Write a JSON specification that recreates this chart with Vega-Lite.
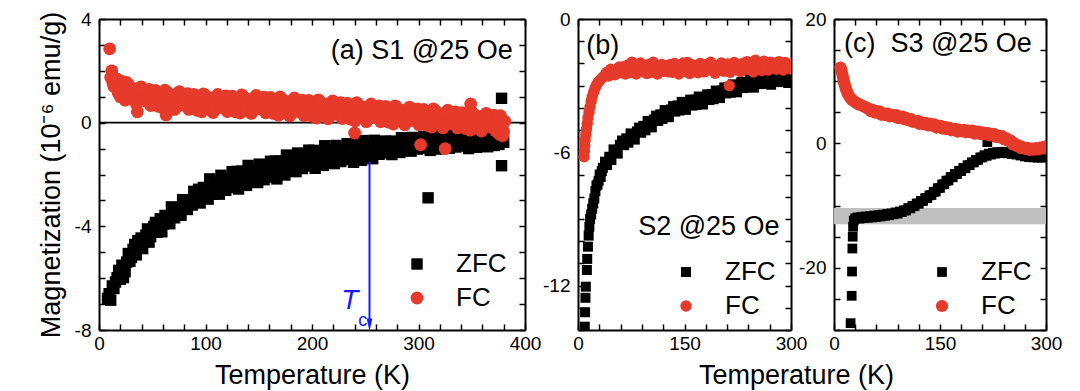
{
"$schema": "https://vega.github.io/schema/vega-lite/v6.json",
"background": "white",
"padding": {"left": 37, "top": 10, "right": 5, "bottom": 5},
"config": {
  "font": "Liberation Sans",
  "view": {"stroke": null},
  "axis": {"domainColor": "black", "domainWidth": 2, "tickColor": "black", "tickWidth": 1.5, "tickSize": -6, "labelColor": "black", "labelFontSize": 19, "labelFont": "Liberation Sans", "titleFont": "Liberation Sans", "titleFontSize": 27, "titleFontWeight": "normal", "titleColor": "black", "grid": false, "labelFlush": false, "labelOverlap": false, "labelPadding": 14, "titlePadding": 5},
  "axisBottom": {"labelPadding": 10, "titlePadding": 9},
  "legend": {"labelFontSize": 26, "labelFont": "Liberation Sans", "labelColor": "black", "symbolSize": 75, "symbolStrokeWidth": 0, "labelOffset": 26, "rowPadding": 8, "padding": 0},
  "text": {"font": "Liberation Sans"}
},
"datasets": {
"a": [
{"s":"ZFC","t":8,"m":-6.78},{"s":"ZFC","t":9.5,"m":-6.6},{"s":"ZFC","t":11,"m":-6.85},{"s":"ZFC","t":12.5,"m":-6.3},{"s":"ZFC","t":14,"m":-6.4},{"s":"ZFC","t":15.5,"m":-6.15},{"s":"ZFC","t":17,"m":-5.98},{"s":"ZFC","t":18.5,"m":-5.7},{"s":"ZFC","t":20,"m":-6.04},{"s":"ZFC","t":21.5,"m":-5.5},{"s":"ZFC","t":23,"m":-5.98},{"s":"ZFC","t":24.5,"m":-5.75},{"s":"ZFC","t":26,"m":-5.38},{"s":"ZFC","t":27.5,"m":-5.05},{"s":"ZFC","t":29,"m":-5.35},{"s":"ZFC","t":30.5,"m":-5.2},{"s":"ZFC","t":32,"m":-4.89},{"s":"ZFC","t":33.5,"m":-4.7},{"s":"ZFC","t":35,"m":-5.1},{"s":"ZFC","t":36.5,"m":-4.55},{"s":"ZFC","t":38,"m":-4.74},{"s":"ZFC","t":39.5,"m":-4.45},{"s":"ZFC","t":41,"m":-4.86},{"s":"ZFC","t":42.5,"m":-4.6},{"s":"ZFC","t":44,"m":-4.34},{"s":"ZFC","t":45.5,"m":-4.1},{"s":"ZFC","t":47,"m":-4.61},{"s":"ZFC","t":48.5,"m":-4.4},{"s":"ZFC","t":50,"m":-4.21},{"s":"ZFC","t":51.5,"m":-4.0},{"s":"ZFC","t":53,"m":-3.85},{"s":"ZFC","t":56,"m":-4.13},{"s":"ZFC","t":59,"m":-4.21},{"s":"ZFC","t":62,"m":-3.58},{"s":"ZFC","t":65,"m":-3.72},{"s":"ZFC","t":68,"m":-3.25},{"s":"ZFC","t":71,"m":-3.67},{"s":"ZFC","t":74,"m":-3.3},{"s":"ZFC","t":77,"m":-3.57},{"s":"ZFC","t":80,"m":-3.04},{"s":"ZFC","t":83,"m":-3.35},{"s":"ZFC","t":86,"m":-2.98},{"s":"ZFC","t":89,"m":-2.65},{"s":"ZFC","t":92,"m":-2.97},{"s":"ZFC","t":95,"m":-3.1},{"s":"ZFC","t":98,"m":-2.5},{"s":"ZFC","t":101,"m":-2.68},{"s":"ZFC","t":104,"m":-2.17},{"s":"ZFC","t":107,"m":-2.76},{"s":"ZFC","t":110,"m":-2.35},{"s":"ZFC","t":113,"m":-2.76},{"s":"ZFC","t":116,"m":-2.16},{"s":"ZFC","t":119,"m":-2.61},{"s":"ZFC","t":122,"m":-2.22},{"s":"ZFC","t":125,"m":-1.89},{"s":"ZFC","t":128,"m":-2.35},{"s":"ZFC","t":131,"m":-2.56},{"s":"ZFC","t":134,"m":-1.87},{"s":"ZFC","t":137,"m":-2.14},{"s":"ZFC","t":140,"m":-1.65},{"s":"ZFC","t":143,"m":-2.27},{"s":"ZFC","t":146,"m":-1.89},{"s":"ZFC","t":149,"m":-2.31},{"s":"ZFC","t":152,"m":-1.73},{"s":"ZFC","t":155,"m":-2.2},{"s":"ZFC","t":158,"m":-1.82},{"s":"ZFC","t":161,"m":-1.49},{"s":"ZFC","t":164,"m":-1.95},{"s":"ZFC","t":167,"m":-2.17},{"s":"ZFC","t":170,"m":-1.48},{"s":"ZFC","t":173,"m":-1.74},{"s":"ZFC","t":176,"m":-1.25},{"s":"ZFC","t":179,"m":-1.86},{"s":"ZFC","t":182,"m":-1.48},{"s":"ZFC","t":185,"m":-1.89},{"s":"ZFC","t":188,"m":-1.3},{"s":"ZFC","t":191,"m":-1.77},{"s":"ZFC","t":194,"m":-1.39},{"s":"ZFC","t":197,"m":-1.06},{"s":"ZFC","t":200,"m":-1.53},{"s":"ZFC","t":203,"m":-1.76},{"s":"ZFC","t":206,"m":-1.08},{"s":"ZFC","t":209,"m":-1.36},{"s":"ZFC","t":212,"m":-0.89},{"s":"ZFC","t":215,"m":-1.52},{"s":"ZFC","t":218,"m":-1.15},{"s":"ZFC","t":221,"m":-1.58},{"s":"ZFC","t":224,"m":-1.01},{"s":"ZFC","t":227,"m":-1.5},{"s":"ZFC","t":230,"m":-1.13},{"s":"ZFC","t":233,"m":-0.81},{"s":"ZFC","t":236,"m":-1.3},{"s":"ZFC","t":239,"m":-1.53},{"s":"ZFC","t":242,"m":-0.87},{"s":"ZFC","t":245,"m":-1.15},{"s":"ZFC","t":248,"m":-0.69},{"s":"ZFC","t":251,"m":-1.32},{"s":"ZFC","t":254,"m":-0.96},{"s":"ZFC","t":257,"m":-1.39},{"s":"ZFC","t":260,"m":-0.82},{"s":"ZFC","t":263,"m":-1.22},{"s":"ZFC","t":266,"m":-0.94},{"s":"ZFC","t":269,"m":-0.71},{"s":"ZFC","t":272,"m":-1.06},{"s":"ZFC","t":275,"m":-1.23},{"s":"ZFC","t":278,"m":-0.72},{"s":"ZFC","t":281,"m":-0.94},{"s":"ZFC","t":284,"m":-0.58},{"s":"ZFC","t":287,"m":-1.05},{"s":"ZFC","t":290,"m":-0.77},{"s":"ZFC","t":293,"m":-1.1},{"s":"ZFC","t":296,"m":-0.67},{"s":"ZFC","t":299,"m":-1.02},{"s":"ZFC","t":302,"m":-0.76},{"s":"ZFC","t":305,"m":-0.53},{"s":"ZFC","t":308,"m":-0.89},{"s":"ZFC","t":311,"m":-1.07},{"s":"ZFC","t":314,"m":-0.58},{"s":"ZFC","t":317,"m":-0.8},{"s":"ZFC","t":320,"m":-0.45},{"s":"ZFC","t":323,"m":-0.93},{"s":"ZFC","t":326,"m":-0.66},{"s":"ZFC","t":329,"m":-0.99},{"s":"ZFC","t":332,"m":-0.58},{"s":"ZFC","t":335,"m":-0.94},{"s":"ZFC","t":338,"m":-0.67},{"s":"ZFC","t":341,"m":-0.45},{"s":"ZFC","t":344,"m":-0.81},{"s":"ZFC","t":347,"m":-1.0},{"s":"ZFC","t":350,"m":-0.5},{"s":"ZFC","t":353,"m":-0.73},{"s":"ZFC","t":356,"m":-0.38},{"s":"ZFC","t":359,"m":-0.87},{"s":"ZFC","t":362,"m":-0.59},{"s":"ZFC","t":365,"m":-0.93},{"s":"ZFC","t":368,"m":-0.51},{"s":"ZFC","t":371,"m":-0.88},{"s":"ZFC","t":374,"m":-0.62},{"s":"ZFC","t":377,"m":-0.39},{"s":"ZFC","t":380,"m":-0.76},
{"s":"ZFC","t":54.5,"m":-4.23},{"s":"ZFC","t":57.5,"m":-3.71},{"s":"ZFC","t":60.5,"m":-3.91},{"s":"ZFC","t":63.5,"m":-3.6},{"s":"ZFC","t":66.5,"m":-3.9},{"s":"ZFC","t":69.5,"m":-3.32},{"s":"ZFC","t":72.5,"m":-3.42},{"s":"ZFC","t":75.5,"m":-3.57},{"s":"ZFC","t":78.5,"m":-2.97},{"s":"ZFC","t":81.5,"m":-3.28},{"s":"ZFC","t":84.5,"m":-2.99},{"s":"ZFC","t":87.5,"m":-3.18},{"s":"ZFC","t":90.5,"m":-3.05},{"s":"ZFC","t":93.5,"m":-2.57},{"s":"ZFC","t":96.5,"m":-2.82},{"s":"ZFC","t":99.5,"m":-2.54},{"s":"ZFC","t":102.5,"m":-2.95},{"s":"ZFC","t":105.5,"m":-2.29},{"s":"ZFC","t":108.5,"m":-2.48},{"s":"ZFC","t":111.5,"m":-2.73},{"s":"ZFC","t":114.5,"m":-2.03},{"s":"ZFC","t":117.5,"m":-2.49},{"s":"ZFC","t":120.5,"m":-2.19},{"s":"ZFC","t":123.5,"m":-2.5},{"s":"ZFC","t":126.5,"m":-2.41},{"s":"ZFC","t":129.5,"m":-1.88},{"s":"ZFC","t":132.5,"m":-2.24},{"s":"ZFC","t":135.5,"m":-1.96},{"s":"ZFC","t":138.5,"m":-2.42},{"s":"ZFC","t":141.5,"m":-1.79},{"s":"ZFC","t":144.5,"m":-2.0},{"s":"ZFC","t":147.5,"m":-2.27},{"s":"ZFC","t":150.5,"m":-1.6},{"s":"ZFC","t":153.5,"m":-2.07},{"s":"ZFC","t":156.5,"m":-1.78},{"s":"ZFC","t":159.5,"m":-2.1},{"s":"ZFC","t":162.5,"m":-2.02},{"s":"ZFC","t":165.5,"m":-1.48},{"s":"ZFC","t":168.5,"m":-1.85},{"s":"ZFC","t":171.5,"m":-1.56},{"s":"ZFC","t":174.5,"m":-2.02},{"s":"ZFC","t":177.5,"m":-1.38},{"s":"ZFC","t":180.5,"m":-1.6},{"s":"ZFC","t":183.5,"m":-1.86},{"s":"ZFC","t":186.5,"m":-1.17},{"s":"ZFC","t":189.5,"m":-1.64},{"s":"ZFC","t":192.5,"m":-1.35},{"s":"ZFC","t":195.5,"m":-1.67},{"s":"ZFC","t":198.5,"m":-1.59},{"s":"ZFC","t":201.5,"m":-1.07},{"s":"ZFC","t":204.5,"m":-1.44},{"s":"ZFC","t":207.5,"m":-1.17},{"s":"ZFC","t":210.5,"m":-1.65},{"s":"ZFC","t":213.5,"m":-1.03},{"s":"ZFC","t":216.5,"m":-1.26},{"s":"ZFC","t":219.5,"m":-1.54},{"s":"ZFC","t":222.5,"m":-0.88},{"s":"ZFC","t":225.5,"m":-1.36},{"s":"ZFC","t":228.5,"m":-1.09},{"s":"ZFC","t":231.5,"m":-1.42},{"s":"ZFC","t":234.5,"m":-1.36},{"s":"ZFC","t":237.5,"m":-0.84},{"s":"ZFC","t":240.5,"m":-1.23},{"s":"ZFC","t":243.5,"m":-0.96},{"s":"ZFC","t":246.5,"m":-1.45},{"s":"ZFC","t":249.5,"m":-0.83},{"s":"ZFC","t":252.5,"m":-1.07},{"s":"ZFC","t":255.5,"m":-1.35},{"s":"ZFC","t":258.5,"m":-0.68},{"s":"ZFC","t":261.5,"m":-1.12},{"s":"ZFC","t":264.5,"m":-0.91},{"s":"ZFC","t":267.5,"m":-1.17},{"s":"ZFC","t":270.5,"m":-1.11},{"s":"ZFC","t":273.5,"m":-0.72},{"s":"ZFC","t":276.5,"m":-1.0},{"s":"ZFC","t":279.5,"m":-0.79},{"s":"ZFC","t":282.5,"m":-1.15},{"s":"ZFC","t":285.5,"m":-0.68},{"s":"ZFC","t":288.5,"m":-0.86},{"s":"ZFC","t":291.5,"m":-1.06},{"s":"ZFC","t":294.5,"m":-0.57},{"s":"ZFC","t":297.5,"m":-0.92},{"s":"ZFC","t":300.5,"m":-0.72},{"s":"ZFC","t":303.5,"m":-0.98},{"s":"ZFC","t":306.5,"m":-0.93},{"s":"ZFC","t":309.5,"m":-0.56},{"s":"ZFC","t":312.5,"m":-0.85},{"s":"ZFC","t":315.5,"m":-0.65},{"s":"ZFC","t":318.5,"m":-1.02},{"s":"ZFC","t":321.5,"m":-0.56},{"s":"ZFC","t":324.5,"m":-0.74},{"s":"ZFC","t":327.5,"m":-0.96},{"s":"ZFC","t":330.5,"m":-0.47},{"s":"ZFC","t":333.5,"m":-0.83},{"s":"ZFC","t":336.5,"m":-0.64},{"s":"ZFC","t":339.5,"m":-0.9},{"s":"ZFC","t":342.5,"m":-0.86},{"s":"ZFC","t":345.5,"m":-0.48},{"s":"ZFC","t":348.5,"m":-0.78},{"s":"ZFC","t":351.5,"m":-0.58},{"s":"ZFC","t":354.5,"m":-0.95},{"s":"ZFC","t":357.5,"m":-0.49},{"s":"ZFC","t":360.5,"m":-0.68},{"s":"ZFC","t":363.5,"m":-0.89},{"s":"ZFC","t":366.5,"m":-0.41},{"s":"ZFC","t":369.5,"m":-0.77},{"s":"ZFC","t":372.5,"m":-0.58},{"s":"ZFC","t":375.5,"m":-0.84},
{"s":"ZFC","t":309,"m":-2.9},{"s":"ZFC","t":378,"m":0.94},{"s":"ZFC","t":378,"m":-1.66},
{"s":"FC","t":10,"m":2.85},{"s":"FC","t":12,"m":2.0},{"s":"FC","t":11,"m":1.75},{"s":"FC","t":13,"m":1.55},{"s":"FC","t":14,"m":1.4},{"s":"FC","t":15,"m":1.7},{"s":"FC","t":17,"m":1.68},{"s":"FC","t":18,"m":1.15},{"s":"FC","t":20,"m":1.0},{"s":"FC","t":21,"m":1.6},{"s":"FC","t":23,"m":1.4},{"s":"FC","t":25,"m":1.0},{"s":"FC","t":26,"m":1.55},{"s":"FC","t":29,"m":0.96},{"s":"FC","t":32,"m":1.12},{"s":"FC","t":35,"m":0.73},{"s":"FC","t":36,"m":0.42},{"s":"FC","t":38,"m":1.3},{"s":"FC","t":41,"m":1.12},{"s":"FC","t":44,"m":0.85},{"s":"FC","t":47,"m":1.28},{"s":"FC","t":50,"m":0.85},{"s":"FC","t":53,"m":1.24},{"s":"FC","t":56,"m":0.63},{"s":"FC","t":59,"m":1.06},{"s":"FC","t":62,"m":1.25},{"s":"FC","t":63,"m":0.3},{"s":"FC","t":65,"m":0.69},{"s":"FC","t":68,"m":0.88},{"s":"FC","t":71,"m":0.51},{"s":"FC","t":74,"m":1.1},{"s":"FC","t":77,"m":0.94},{"s":"FC","t":80,"m":0.68},{"s":"FC","t":83,"m":1.12},{"s":"FC","t":86,"m":0.7},{"s":"FC","t":89,"m":1.09},{"s":"FC","t":92,"m":0.48},{"s":"FC","t":95,"m":0.92},{"s":"FC","t":98,"m":1.11},{"s":"FC","t":101,"m":0.55},{"s":"FC","t":104,"m":0.75},{"s":"FC","t":107,"m":0.39},{"s":"FC","t":110,"m":0.99},{"s":"FC","t":113,"m":0.84},{"s":"FC","t":116,"m":0.58},{"s":"FC","t":119,"m":1.03},{"s":"FC","t":122,"m":0.63},{"s":"FC","t":125,"m":1.02},{"s":"FC","t":128,"m":0.42},{"s":"FC","t":131,"m":0.87},{"s":"FC","t":134,"m":1.07},{"s":"FC","t":137,"m":0.51},{"s":"FC","t":140,"m":0.71},{"s":"FC","t":143,"m":0.36},{"s":"FC","t":146,"m":0.95},{"s":"FC","t":149,"m":0.8},{"s":"FC","t":152,"m":0.54},{"s":"FC","t":155,"m":0.98},{"s":"FC","t":158,"m":0.57},{"s":"FC","t":161,"m":0.97},{"s":"FC","t":164,"m":0.36},{"s":"FC","t":167,"m":0.8},{"s":"FC","t":170,"m":0.99},{"s":"FC","t":173,"m":0.43},{"s":"FC","t":176,"m":0.62},{"s":"FC","t":179,"m":0.26},{"s":"FC","t":182,"m":0.85},{"s":"FC","t":185,"m":0.69},{"s":"FC","t":188,"m":0.43},{"s":"FC","t":191,"m":0.87},{"s":"FC","t":194,"m":0.47},{"s":"FC","t":197,"m":0.86},{"s":"FC","t":200,"m":0.25},{"s":"FC","t":203,"m":0.69},{"s":"FC","t":206,"m":0.88},{"s":"FC","t":209,"m":0.32},{"s":"FC","t":212,"m":0.51},{"s":"FC","t":215,"m":0.15},{"s":"FC","t":218,"m":0.75},{"s":"FC","t":221,"m":0.59},{"s":"FC","t":224,"m":0.33},{"s":"FC","t":227,"m":0.77},{"s":"FC","t":230,"m":0.36},{"s":"FC","t":233,"m":0.75},{"s":"FC","t":236,"m":0.14},{"s":"FC","t":239,"m":0.58},{"s":"FC","t":240,"m":-0.4},{"s":"FC","t":242,"m":0.77},{"s":"FC","t":245,"m":0.21},{"s":"FC","t":248,"m":0.4},{"s":"FC","t":251,"m":0.04},{"s":"FC","t":254,"m":0.63},{"s":"FC","t":257,"m":0.47},{"s":"FC","t":260,"m":0.21},{"s":"FC","t":263,"m":0.65},{"s":"FC","t":266,"m":0.24},{"s":"FC","t":269,"m":0.63},{"s":"FC","t":272,"m":0.02},{"s":"FC","t":275,"m":0.46},{"s":"FC","t":278,"m":0.65},{"s":"FC","t":281,"m":0.09},{"s":"FC","t":284,"m":0.28},{"s":"FC","t":287,"m":-0.08},{"s":"FC","t":290,"m":0.51},{"s":"FC","t":293,"m":0.35},{"s":"FC","t":296,"m":0.09},{"s":"FC","t":299,"m":0.53},{"s":"FC","t":302,"m":0.12},{"s":"FC","t":302,"m":-0.85},{"s":"FC","t":305,"m":0.51},{"s":"FC","t":308,"m":-0.1},{"s":"FC","t":311,"m":0.34},{"s":"FC","t":314,"m":0.53},{"s":"FC","t":317,"m":-0.03},{"s":"FC","t":320,"m":0.16},{"s":"FC","t":323,"m":-0.2},{"s":"FC","t":325,"m":-1.0},{"s":"FC","t":326,"m":0.39},{"s":"FC","t":329,"m":0.23},{"s":"FC","t":332,"m":-0.03},{"s":"FC","t":335,"m":0.41},{"s":"FC","t":338,"m":0.0},{"s":"FC","t":341,"m":0.39},{"s":"FC","t":344,"m":-0.22},{"s":"FC","t":347,"m":0.22},{"s":"FC","t":349,"m":0.72},{"s":"FC","t":350,"m":0.41},{"s":"FC","t":353,"m":-0.15},{"s":"FC","t":356,"m":0.04},{"s":"FC","t":359,"m":-0.32},{"s":"FC","t":362,"m":0.27},{"s":"FC","t":365,"m":0.11},{"s":"FC","t":368,"m":-0.15},{"s":"FC","t":371,"m":0.29},{"s":"FC","t":374,"m":-0.12},{"s":"FC","t":376,"m":-0.45},{"s":"FC","t":377,"m":0.27},{"s":"FC","t":379,"m":-0.5},{"s":"FC","t":380,"m":-0.34},{"s":"FC","t":381,"m":0.05},
{"s":"FC","t":15.5,"m":1.7},{"s":"FC","t":18.5,"m":1.14},{"s":"FC","t":21.5,"m":1.38},{"s":"FC","t":24.5,"m":0.87},{"s":"FC","t":27.5,"m":1.48},{"s":"FC","t":30.5,"m":1.09},{"s":"FC","t":33.5,"m":1.3},{"s":"FC","t":36.5,"m":0.81},{"s":"FC","t":39.5,"m":1.38},{"s":"FC","t":42.5,"m":0.86},{"s":"FC","t":45.5,"m":1.04},{"s":"FC","t":48.5,"m":0.66},{"s":"FC","t":51.5,"m":1.19},{"s":"FC","t":54.5,"m":0.73},{"s":"FC","t":57.5,"m":1.02},{"s":"FC","t":60.5,"m":0.55},{"s":"FC","t":63.5,"m":1.19},{"s":"FC","t":66.5,"m":0.83},{"s":"FC","t":69.5,"m":1.07},{"s":"FC","t":72.5,"m":0.61},{"s":"FC","t":75.5,"m":1.2},{"s":"FC","t":78.5,"m":0.69},{"s":"FC","t":81.5,"m":0.87},{"s":"FC","t":84.5,"m":0.51},{"s":"FC","t":87.5,"m":1.05},{"s":"FC","t":90.5,"m":0.59},{"s":"FC","t":93.5,"m":0.88},{"s":"FC","t":96.5,"m":0.42},{"s":"FC","t":99.5,"m":1.06},{"s":"FC","t":102.5,"m":0.7},{"s":"FC","t":105.5,"m":0.95},{"s":"FC","t":108.5,"m":0.49},{"s":"FC","t":111.5,"m":1.09},{"s":"FC","t":114.5,"m":0.58},{"s":"FC","t":117.5,"m":0.78},{"s":"FC","t":120.5,"m":0.43},{"s":"FC","t":123.5,"m":0.97},{"s":"FC","t":126.5,"m":0.52},{"s":"FC","t":129.5,"m":0.82},{"s":"FC","t":132.5,"m":0.37},{"s":"FC","t":135.5,"m":1.01},{"s":"FC","t":138.5,"m":0.66},{"s":"FC","t":141.5,"m":0.91},{"s":"FC","t":144.5,"m":0.45},{"s":"FC","t":147.5,"m":1.05},{"s":"FC","t":150.5,"m":0.54},{"s":"FC","t":153.5,"m":0.73},{"s":"FC","t":156.5,"m":0.38},{"s":"FC","t":159.5,"m":0.92},{"s":"FC","t":162.5,"m":0.46},{"s":"FC","t":165.5,"m":0.75},{"s":"FC","t":168.5,"m":0.29},{"s":"FC","t":171.5,"m":0.93},{"s":"FC","t":174.5,"m":0.57},{"s":"FC","t":177.5,"m":0.81},{"s":"FC","t":180.5,"m":0.35},{"s":"FC","t":183.5,"m":0.95},{"s":"FC","t":186.5,"m":0.44},{"s":"FC","t":189.5,"m":0.63},{"s":"FC","t":192.5,"m":0.27},{"s":"FC","t":195.5,"m":0.81},{"s":"FC","t":198.5,"m":0.35},{"s":"FC","t":201.5,"m":0.64},{"s":"FC","t":204.5,"m":0.18},{"s":"FC","t":207.5,"m":0.82},{"s":"FC","t":210.5,"m":0.46},{"s":"FC","t":213.5,"m":0.71},{"s":"FC","t":216.5,"m":0.25},{"s":"FC","t":219.5,"m":0.84},{"s":"FC","t":222.5,"m":0.33},{"s":"FC","t":225.5,"m":0.52},{"s":"FC","t":228.5,"m":0.16},{"s":"FC","t":231.5,"m":0.7},{"s":"FC","t":234.5,"m":0.24},{"s":"FC","t":237.5,"m":0.53},{"s":"FC","t":240.5,"m":0.07},{"s":"FC","t":243.5,"m":0.71},{"s":"FC","t":246.5,"m":0.35},{"s":"FC","t":249.5,"m":0.59},{"s":"FC","t":252.5,"m":0.13},{"s":"FC","t":255.5,"m":0.72},{"s":"FC","t":258.5,"m":0.21},{"s":"FC","t":261.5,"m":0.4},{"s":"FC","t":264.5,"m":0.04},{"s":"FC","t":267.5,"m":0.58},{"s":"FC","t":270.5,"m":0.12},{"s":"FC","t":273.5,"m":0.41},{"s":"FC","t":276.5,"m":-0.05},{"s":"FC","t":279.5,"m":0.59},{"s":"FC","t":282.5,"m":0.23},{"s":"FC","t":285.5,"m":0.47},{"s":"FC","t":288.5,"m":0.01},{"s":"FC","t":291.5,"m":0.6},{"s":"FC","t":294.5,"m":0.09},{"s":"FC","t":297.5,"m":0.28},{"s":"FC","t":300.5,"m":-0.08},{"s":"FC","t":303.5,"m":0.46},{"s":"FC","t":306.5,"m":0.0},{"s":"FC","t":309.5,"m":0.29},{"s":"FC","t":312.5,"m":-0.17},{"s":"FC","t":315.5,"m":0.47},{"s":"FC","t":318.5,"m":0.11},{"s":"FC","t":321.5,"m":0.35},{"s":"FC","t":324.5,"m":-0.11},{"s":"FC","t":327.5,"m":0.48},{"s":"FC","t":330.5,"m":-0.03},{"s":"FC","t":333.5,"m":0.16},{"s":"FC","t":336.5,"m":-0.2},{"s":"FC","t":339.5,"m":0.34},{"s":"FC","t":342.5,"m":-0.12},{"s":"FC","t":345.5,"m":0.17},{"s":"FC","t":348.5,"m":-0.29},{"s":"FC","t":351.5,"m":0.35},{"s":"FC","t":354.5,"m":-0.01},{"s":"FC","t":357.5,"m":0.23},{"s":"FC","t":360.5,"m":-0.23},{"s":"FC","t":363.5,"m":0.36},{"s":"FC","t":366.5,"m":-0.15},{"s":"FC","t":369.5,"m":0.04},{"s":"FC","t":372.5,"m":-0.32},{"s":"FC","t":375.5,"m":0.22},{"s":"FC","t":378.5,"m":-0.24}
],
"b": [
{"s":"ZFC","t":9.5,"m":-13.85},{"s":"ZFC","t":10,"m":-13.2},{"s":"ZFC","t":10.5,"m":-12.55},{"s":"ZFC","t":11,"m":-12.05},{"s":"ZFC","t":12.5,"m":-11.3},{"s":"ZFC","t":13,"m":-10.8},{"s":"ZFC","t":14,"m":-10.25},{"s":"ZFC","t":15,"m":-9.75},{"s":"ZFC","t":16,"m":-9.35},{"s":"ZFC","t":17,"m":-9.0},{"s":"ZFC","t":18.5,"m":-8.8},{"s":"ZFC","t":20,"m":-8.54},{"s":"ZFC","t":21.5,"m":-8.3},{"s":"ZFC","t":23,"m":-8.08},{"s":"ZFC","t":24.5,"m":-7.75},{"s":"ZFC","t":26,"m":-7.5},{"s":"ZFC","t":27.5,"m":-7.45},{"s":"ZFC","t":29,"m":-7.28},{"s":"ZFC","t":30.5,"m":-7.0},{"s":"ZFC","t":32,"m":-7.11},{"s":"ZFC","t":33.5,"m":-6.85},{"s":"ZFC","t":35,"m":-6.7},{"s":"ZFC","t":38,"m":-6.42},{"s":"ZFC","t":41,"m":-6.57},{"s":"ZFC","t":44,"m":-6.2},{"s":"ZFC","t":47,"m":-6.35},{"s":"ZFC","t":50,"m":-5.87},{"s":"ZFC","t":53,"m":-6.0},{"s":"ZFC","t":56,"m":-6.06},{"s":"ZFC","t":59,"m":-5.66},{"s":"ZFC","t":62,"m":-5.47},{"s":"ZFC","t":65,"m":-5.68},{"s":"ZFC","t":68,"m":-5.37},{"s":"ZFC","t":71,"m":-5.57},{"s":"ZFC","t":74,"m":-5.15},{"s":"ZFC","t":77,"m":-5.33},{"s":"ZFC","t":80,"m":-5.43},{"s":"ZFC","t":83,"m":-5.06},{"s":"ZFC","t":86,"m":-4.89},{"s":"ZFC","t":89,"m":-5.12},{"s":"ZFC","t":92,"m":-4.81},{"s":"ZFC","t":95,"m":-5.01},{"s":"ZFC","t":98,"m":-4.59},{"s":"ZFC","t":101,"m":-4.77},{"s":"ZFC","t":104,"m":-4.88},{"s":"ZFC","t":107,"m":-4.52},{"s":"ZFC","t":110,"m":-4.35},{"s":"ZFC","t":113,"m":-4.59},{"s":"ZFC","t":116,"m":-4.29},{"s":"ZFC","t":119,"m":-4.5},{"s":"ZFC","t":122,"m":-4.1},{"s":"ZFC","t":125,"m":-4.3},{"s":"ZFC","t":128,"m":-4.42},{"s":"ZFC","t":131,"m":-4.07},{"s":"ZFC","t":134,"m":-3.92},{"s":"ZFC","t":137,"m":-4.17},{"s":"ZFC","t":140,"m":-3.89},{"s":"ZFC","t":143,"m":-4.12},{"s":"ZFC","t":146,"m":-3.73},{"s":"ZFC","t":149,"m":-3.95},{"s":"ZFC","t":152,"m":-4.09},{"s":"ZFC","t":155,"m":-3.76},{"s":"ZFC","t":158,"m":-3.63},{"s":"ZFC","t":161,"m":-3.9},{"s":"ZFC","t":164,"m":-3.63},{"s":"ZFC","t":167,"m":-3.87},{"s":"ZFC","t":170,"m":-3.49},{"s":"ZFC","t":173,"m":-3.71},{"s":"ZFC","t":176,"m":-3.85},{"s":"ZFC","t":179,"m":-3.52},{"s":"ZFC","t":182,"m":-3.39},{"s":"ZFC","t":185,"m":-3.65},{"s":"ZFC","t":188,"m":-3.38},{"s":"ZFC","t":191,"m":-3.61},{"s":"ZFC","t":194,"m":-3.22},{"s":"ZFC","t":197,"m":-3.43},{"s":"ZFC","t":200,"m":-3.56},{"s":"ZFC","t":203,"m":-3.22},{"s":"ZFC","t":206,"m":-3.08},{"s":"ZFC","t":209,"m":-3.35},{"s":"ZFC","t":212,"m":-3.08},{"s":"ZFC","t":215,"m":-3.32},{"s":"ZFC","t":218,"m":-2.94},{"s":"ZFC","t":221,"m":-3.16},{"s":"ZFC","t":224,"m":-3.3},{"s":"ZFC","t":227,"m":-2.97},{"s":"ZFC","t":230,"m":-2.84},{"s":"ZFC","t":233,"m":-3.11},{"s":"ZFC","t":236,"m":-2.84},{"s":"ZFC","t":239,"m":-3.08},{"s":"ZFC","t":242,"m":-2.71},{"s":"ZFC","t":245,"m":-2.94},{"s":"ZFC","t":248,"m":-3.09},{"s":"ZFC","t":251,"m":-2.77},{"s":"ZFC","t":254,"m":-2.65},{"s":"ZFC","t":257,"m":-2.93},{"s":"ZFC","t":260,"m":-2.67},{"s":"ZFC","t":263,"m":-2.92},{"s":"ZFC","t":266,"m":-2.56},{"s":"ZFC","t":269,"m":-2.8},{"s":"ZFC","t":272,"m":-2.96},{"s":"ZFC","t":275,"m":-2.65},{"s":"ZFC","t":278,"m":-2.54},{"s":"ZFC","t":281,"m":-2.83},{"s":"ZFC","t":284,"m":-2.58},{"s":"ZFC","t":287,"m":-2.84},{"s":"ZFC","t":290,"m":-2.48},{"s":"ZFC","t":293,"m":-2.72},{"s":"ZFC","t":296,"m":-2.88},{"s":"ZFC","t":299,"m":-2.57},
{"s":"FC","t":8.5,"m":-6.2},{"s":"FC","t":9,"m":-5.95},{"s":"FC","t":9.5,"m":-5.7},{"s":"FC","t":10,"m":-5.45},{"s":"FC","t":11,"m":-5.2},{"s":"FC","t":12,"m":-4.95},{"s":"FC","t":13,"m":-4.7},{"s":"FC","t":14,"m":-4.45},{"s":"FC","t":15.5,"m":-4.2},{"s":"FC","t":17,"m":-3.95},{"s":"FC","t":18.5,"m":-3.7},{"s":"FC","t":20,"m":-3.5},{"s":"FC","t":22,"m":-3.3},{"s":"FC","t":24,"m":-3.12},{"s":"FC","t":26,"m":-2.98},{"s":"FC","t":28,"m":-2.86},{"s":"FC","t":31,"m":-2.75},{"s":"FC","t":34,"m":-2.65},{"s":"FC","t":37,"m":-2.56},{"s":"FC","t":40,"m":-2.41},{"s":"FC","t":43,"m":-2.57},{"s":"FC","t":46,"m":-2.26},{"s":"FC","t":49,"m":-2.43},{"s":"FC","t":52,"m":-2.51},{"s":"FC","t":55,"m":-2.28},{"s":"FC","t":58,"m":-2.16},{"s":"FC","t":61,"m":-2.42},{"s":"FC","t":64,"m":-2.15},{"s":"FC","t":67,"m":-2.48},{"s":"FC","t":70,"m":-2.07},{"s":"FC","t":73,"m":-2.41},{"s":"FC","t":76,"m":-1.95},{"s":"FC","t":79,"m":-2.3},{"s":"FC","t":82,"m":-2.48},{"s":"FC","t":85,"m":-2.15},{"s":"FC","t":88,"m":-1.98},{"s":"FC","t":91,"m":-2.35},{"s":"FC","t":94,"m":-2.1},{"s":"FC","t":97,"m":-2.45},{"s":"FC","t":100,"m":-2.05},{"s":"FC","t":103,"m":-2.4},{"s":"FC","t":106,"m":-1.95},{"s":"FC","t":109,"m":-2.22},{"s":"FC","t":112,"m":-2.48},{"s":"FC","t":115,"m":-2.15},{"s":"FC","t":118,"m":-2.05},{"s":"FC","t":121,"m":-2.35},{"s":"FC","t":124,"m":-2.1},{"s":"FC","t":127,"m":-2.38},{"s":"FC","t":130,"m":-2.05},{"s":"FC","t":133,"m":-2.4},{"s":"FC","t":136,"m":-2.0},{"s":"FC","t":139,"m":-2.3},{"s":"FC","t":142,"m":-2.48},{"s":"FC","t":145,"m":-2.25},{"s":"FC","t":148,"m":-1.98},{"s":"FC","t":151,"m":-2.35},{"s":"FC","t":154,"m":-1.96},{"s":"FC","t":157,"m":-2.45},{"s":"FC","t":160,"m":-2.05},{"s":"FC","t":163,"m":-2.28},{"s":"FC","t":166,"m":-2.12},{"s":"FC","t":169,"m":-2.42},{"s":"FC","t":172,"m":-2.0},{"s":"FC","t":175,"m":-2.22},{"s":"FC","t":178,"m":-2.38},{"s":"FC","t":181,"m":-2.05},{"s":"FC","t":184,"m":-2.3},{"s":"FC","t":187,"m":-1.95},{"s":"FC","t":190,"m":-2.18},{"s":"FC","t":193,"m":-2.44},{"s":"FC","t":196,"m":-2.1},{"s":"FC","t":199,"m":-2.26},{"s":"FC","t":202,"m":-1.98},{"s":"FC","t":205,"m":-2.35},{"s":"FC","t":208,"m":-2.14},{"s":"FC","t":211,"m":-2.02},{"s":"FC","t":213,"m":-3.0},{"s":"FC","t":214,"m":-2.4},{"s":"FC","t":217,"m":-2.2},{"s":"FC","t":220,"m":-1.96},{"s":"FC","t":223,"m":-2.3},{"s":"FC","t":226,"m":-2.08},{"s":"FC","t":229,"m":-2.36},{"s":"FC","t":232,"m":-2.0},{"s":"FC","t":235,"m":-2.22},{"s":"FC","t":238,"m":-1.92},{"s":"FC","t":241,"m":-2.28},{"s":"FC","t":244,"m":-2.12},{"s":"FC","t":247,"m":-2.38},{"s":"FC","t":250,"m":-1.85},{"s":"FC","t":253,"m":-2.2},{"s":"FC","t":256,"m":-2.04},{"s":"FC","t":259,"m":-2.32},{"s":"FC","t":262,"m":-1.9},{"s":"FC","t":265,"m":-2.15},{"s":"FC","t":268,"m":-2.3},{"s":"FC","t":271,"m":-1.95},{"s":"FC","t":274,"m":-2.18},{"s":"FC","t":277,"m":-2.0},{"s":"FC","t":280,"m":-2.26},{"s":"FC","t":283,"m":-1.92},{"s":"FC","t":286,"m":-2.12},{"s":"FC","t":289,"m":-2.3},{"s":"FC","t":292,"m":-1.96},{"s":"FC","t":295,"m":-2.15},{"s":"FC","t":298,"m":-2.05},{"s":"FC","t":300,"m":-2.25}
],
"c": [
{"s":"ZFC","t":23.5,"m":-28.9},{"s":"ZFC","t":25,"m":-24.5},{"s":"ZFC","t":25.5,"m":-20.6},{"s":"ZFC","t":26,"m":-16.9},{"s":"ZFC","t":26.5,"m":-15.0},{"s":"ZFC","t":27,"m":-13.4},{"s":"ZFC","t":28,"m":-12.4},{"s":"ZFC","t":30,"m":-12.05},{"s":"ZFC","t":33,"m":-11.9},{"s":"ZFC","t":36,"m":-12.1},{"s":"ZFC","t":39,"m":-11.8},{"s":"ZFC","t":42,"m":-12.0},{"s":"ZFC","t":45,"m":-11.75},{"s":"ZFC","t":48,"m":-11.95},{"s":"ZFC","t":51,"m":-11.7},{"s":"ZFC","t":54,"m":-11.9},{"s":"ZFC","t":57,"m":-11.6},{"s":"ZFC","t":60,"m":-11.85},{"s":"ZFC","t":63,"m":-11.55},{"s":"ZFC","t":66,"m":-11.75},{"s":"ZFC","t":69,"m":-11.45},{"s":"ZFC","t":72,"m":-11.65},{"s":"ZFC","t":75,"m":-11.35},{"s":"ZFC","t":78,"m":-11.55},{"s":"ZFC","t":81,"m":-11.25},{"s":"ZFC","t":84,"m":-11.4},{"s":"ZFC","t":87,"m":-11.1},{"s":"ZFC","t":90,"m":-11.3},{"s":"ZFC","t":93,"m":-10.95},{"s":"ZFC","t":96,"m":-11.05},{"s":"ZFC","t":99,"m":-10.75},{"s":"ZFC","t":102,"m":-10.8},{"s":"ZFC","t":105,"m":-10.4},{"s":"ZFC","t":108,"m":-10.45},{"s":"ZFC","t":111,"m":-10.05},{"s":"ZFC","t":114,"m":-10.1},{"s":"ZFC","t":117,"m":-9.65},{"s":"ZFC","t":120,"m":-9.7},{"s":"ZFC","t":123,"m":-9.25},{"s":"ZFC","t":126,"m":-9.25},{"s":"ZFC","t":129,"m":-8.8},{"s":"ZFC","t":132,"m":-8.8},{"s":"ZFC","t":135,"m":-8.35},{"s":"ZFC","t":138,"m":-8.3},{"s":"ZFC","t":141,"m":-7.8},{"s":"ZFC","t":144,"m":-7.75},{"s":"ZFC","t":147,"m":-7.2},{"s":"ZFC","t":150,"m":-7.15},{"s":"ZFC","t":153,"m":-6.6},{"s":"ZFC","t":156,"m":-6.55},{"s":"ZFC","t":159,"m":-6.0},{"s":"ZFC","t":162,"m":-5.95},{"s":"ZFC","t":165,"m":-5.4},{"s":"ZFC","t":168,"m":-5.45},{"s":"ZFC","t":171,"m":-4.9},{"s":"ZFC","t":174,"m":-4.95},{"s":"ZFC","t":177,"m":-4.4},{"s":"ZFC","t":180,"m":-4.45},{"s":"ZFC","t":183,"m":-3.95},{"s":"ZFC","t":186,"m":-4.0},{"s":"ZFC","t":189,"m":-3.5},{"s":"ZFC","t":192,"m":-3.5},{"s":"ZFC","t":195,"m":-3.05},{"s":"ZFC","t":198,"m":-3.05},{"s":"ZFC","t":201,"m":-2.65},{"s":"ZFC","t":204,"m":-2.65},{"s":"ZFC","t":207,"m":-2.25},{"s":"ZFC","t":210,"m":-2.25},{"s":"ZFC","t":213,"m":-1.9},{"s":"ZFC","t":216,"m":-2.0},{"s":"ZFC","t":217,"m":0.2},{"s":"ZFC","t":219,"m":-1.65},{"s":"ZFC","t":222,"m":-1.8},{"s":"ZFC","t":225,"m":-1.5},{"s":"ZFC","t":228,"m":-1.65},{"s":"ZFC","t":231,"m":-1.4},{"s":"ZFC","t":234,"m":-1.55},{"s":"ZFC","t":237,"m":-1.35},{"s":"ZFC","t":240,"m":-1.55},{"s":"ZFC","t":243,"m":-1.35},{"s":"ZFC","t":246,"m":-1.6},{"s":"ZFC","t":249,"m":-1.45},{"s":"ZFC","t":252,"m":-1.7},{"s":"ZFC","t":255,"m":-1.55},{"s":"ZFC","t":258,"m":-1.8},{"s":"ZFC","t":261,"m":-1.65},{"s":"ZFC","t":264,"m":-1.95},{"s":"ZFC","t":267,"m":-1.8},{"s":"ZFC","t":270,"m":-2.1},{"s":"ZFC","t":273,"m":-1.95},{"s":"ZFC","t":276,"m":-2.2},{"s":"ZFC","t":279,"m":-2.05},{"s":"ZFC","t":282,"m":-2.25},{"s":"ZFC","t":285,"m":-2.1},{"s":"ZFC","t":288,"m":-2.3},{"s":"ZFC","t":291,"m":-2.12},{"s":"ZFC","t":294,"m":-2.28},{"s":"ZFC","t":297,"m":-2.15},{"s":"ZFC","t":300,"m":-2.25},
{"s":"FC","t":9,"m":12.2},{"s":"FC","t":10,"m":11.9},{"s":"FC","t":11,"m":11.5},{"s":"FC","t":12,"m":11.0},{"s":"FC","t":13,"m":10.5},{"s":"FC","t":14,"m":10.0},{"s":"FC","t":15,"m":9.5},{"s":"FC","t":16,"m":9.1},{"s":"FC","t":17,"m":8.7},{"s":"FC","t":18.5,"m":8.3},{"s":"FC","t":20,"m":7.9},{"s":"FC","t":22,"m":7.5},{"s":"FC","t":24,"m":7.2},{"s":"FC","t":26,"m":6.95},{"s":"FC","t":28.5,"m":6.75},{"s":"FC","t":31,"m":6.55},{"s":"FC","t":34,"m":6.35},{"s":"FC","t":37,"m":6.2},{"s":"FC","t":40,"m":6.05},{"s":"FC","t":43,"m":5.9},{"s":"FC","t":46,"m":5.75},{"s":"FC","t":49,"m":5.55},{"s":"FC","t":52,"m":5.2},{"s":"FC","t":55,"m":5.4},{"s":"FC","t":58,"m":4.95},{"s":"FC","t":61,"m":5.1},{"s":"FC","t":64,"m":5.15},{"s":"FC","t":67,"m":4.6},{"s":"FC","t":70,"m":4.82},{"s":"FC","t":73,"m":4.55},{"s":"FC","t":76,"m":4.78},{"s":"FC","t":79,"m":4.35},{"s":"FC","t":82,"m":4.6},{"s":"FC","t":85,"m":4.33},{"s":"FC","t":88,"m":4.55},{"s":"FC","t":91,"m":4.05},{"s":"FC","t":94,"m":4.28},{"s":"FC","t":97,"m":4.3},{"s":"FC","t":100,"m":3.85},{"s":"FC","t":103,"m":4.05},{"s":"FC","t":106,"m":3.7},{"s":"FC","t":109,"m":3.9},{"s":"FC","t":112,"m":3.45},{"s":"FC","t":115,"m":3.6},{"s":"FC","t":118,"m":3.62},{"s":"FC","t":121,"m":3.15},{"s":"FC","t":124,"m":3.38},{"s":"FC","t":127,"m":3.1},{"s":"FC","t":130,"m":3.32},{"s":"FC","t":133,"m":2.9},{"s":"FC","t":136,"m":3.13},{"s":"FC","t":139,"m":2.85},{"s":"FC","t":142,"m":3.07},{"s":"FC","t":145,"m":2.55},{"s":"FC","t":148,"m":2.78},{"s":"FC","t":151,"m":2.8},{"s":"FC","t":154,"m":2.37},{"s":"FC","t":157,"m":2.6},{"s":"FC","t":160,"m":2.28},{"s":"FC","t":163,"m":2.52},{"s":"FC","t":166,"m":2.11},{"s":"FC","t":169,"m":2.3},{"s":"FC","t":172,"m":2.35},{"s":"FC","t":175,"m":1.9},{"s":"FC","t":178,"m":2.16},{"s":"FC","t":181,"m":1.92},{"s":"FC","t":184,"m":2.18},{"s":"FC","t":187,"m":1.79},{"s":"FC","t":190,"m":2.05},{"s":"FC","t":193,"m":1.81},{"s":"FC","t":196,"m":2.07},{"s":"FC","t":199,"m":1.58},{"s":"FC","t":202,"m":1.84},{"s":"FC","t":205,"m":1.9},{"s":"FC","t":208,"m":1.5},{"s":"FC","t":211,"m":1.75},{"s":"FC","t":214,"m":1.45},{"s":"FC","t":217,"m":1.7},{"s":"FC","t":220,"m":1.3},{"s":"FC","t":223,"m":1.5},{"s":"FC","t":226,"m":1.52},{"s":"FC","t":229,"m":1.05},{"s":"FC","t":232,"m":1.25},{"s":"FC","t":235,"m":0.95},{"s":"FC","t":238,"m":1.15},{"s":"FC","t":241,"m":0.65},{"s":"FC","t":244,"m":0.8},{"s":"FC","t":247,"m":0.4},{"s":"FC","t":250,"m":0.45},{"s":"FC","t":253,"m":-0.15},{"s":"FC","t":256,"m":-0.05},{"s":"FC","t":259,"m":-0.45},{"s":"FC","t":262,"m":-0.35},{"s":"FC","t":265,"m":-0.77},{"s":"FC","t":268,"m":-0.62},{"s":"FC","t":271,"m":-0.9},{"s":"FC","t":274,"m":-0.7},{"s":"FC","t":277,"m":-1.05},{"s":"FC","t":280,"m":-0.82},{"s":"FC","t":283,"m":-1.02},{"s":"FC","t":286,"m":-0.75},{"s":"FC","t":289,"m":-0.95},{"s":"FC","t":292,"m":-0.68},{"s":"FC","t":295,"m":-0.8},{"s":"FC","t":298,"m":-0.52}
]
},
"spacing": 53,
"bounds": "flush",
"resolve": {"scale": {"color": "independent", "shape": "independent", "size": "independent"}, "legend": {"color": "independent", "shape": "independent"}},
"hconcat": [
{
  "width": 426, "height": 311,
  "resolve": {"axis": {"x": "independent", "y": "independent"}},
  "layer": [
    {"data": {"values": [{}]}, "mark": {"type": "rule", "color": "black", "strokeWidth": 1.8}, "encoding": {"y": {"datum": 0, "type": "quantitative", "axis": null}}},
    {"data": {"name": "a"}, "mark": {"type": "point", "filled": true, "opacity": 1, "clip": true, "strokeWidth": 0},
     "encoding": {
       "x": {"field": "t", "type": "quantitative", "scale": {"domain": [0, 400], "nice": false, "zero": false}, "axis": {"orient": "bottom", "values": [0,20,40,60,80,100,120,140,160,180,200,220,240,260,280,300,320,340,360,380,400], "labelExpr": "datum.value % 100 == 0 ? datum.label : ''", "title": "Temperature (K)"}},
       "y": {"field": "m", "type": "quantitative", "scale": {"domain": [-8, 4], "nice": false, "zero": false}, "axis": {"orient": "left", "values": [-8,-7,-6,-5,-4,-3,-2,-1,0,1,2,3,4], "labelExpr": "datum.value % 4 == 0 ? replace(datum.label, '\u2212', '-') : ''", "title": "Magnetization (10\u207b\u2076 emu/g)", "titlePadding": 9}},
       "shape": {"field": "s", "type": "nominal", "scale": {"domain": ["ZFC", "FC"], "range": ["square", "circle"]}, "legend": {"orient": "none", "legendX": 305, "legendY": 232, "title": null}},
       "color": {"field": "s", "type": "nominal", "scale": {"domain": ["ZFC", "FC"], "range": ["#000000", "#e63a2a"]}, "legend": {"orient": "none", "legendX": 305, "legendY": 232, "title": null}},
       "size": {"field": "s", "type": "nominal", "scale": {"domain": ["ZFC", "FC"], "range": [130, 165]}, "legend": null}
     }},
    {"data": {"values": [{}]}, "mark": {"type": "rule", "color": "#1a1aff", "strokeWidth": 2}, "encoding": {"x": {"datum": 254, "type": "quantitative", "axis": null}, "y": {"datum": -1.5, "type": "quantitative", "axis": null}, "y2": {"datum": -7.6}}},
    {"data": {"values": [{}]}, "mark": {"type": "point", "shape": "M-0.45,-1L0.45,-1L0,1Z", "filled": true, "color": "#1a1aff", "size": 160, "opacity": 1, "strokeWidth": 0}, "encoding": {"x": {"datum": 254, "type": "quantitative", "axis": null}, "y": {"datum": -7.8, "type": "quantitative", "axis": null}}},
    {"data": {"values": [{}]}, "mark": {"type": "text", "text": "T", "fontStyle": "italic", "fontSize": 28, "color": "#1a1aff", "align": "center", "baseline": "middle"}, "encoding": {"x": {"datum": 235.5, "type": "quantitative", "axis": null}, "y": {"datum": -6.9, "type": "quantitative", "axis": null}}},
    {"data": {"values": [{}]}, "mark": {"type": "text", "text": "c", "fontSize": 18, "color": "#1a1aff", "align": "left", "baseline": "middle"}, "encoding": {"x": {"datum": 243.5, "type": "quantitative", "axis": null}, "y": {"datum": -7.65, "type": "quantitative", "axis": null}}},
    {"data": {"values": [{}]}, "mark": {"type": "text", "text": "(a) S1 @25 Oe", "fontSize": 27, "color": "black", "align": "right", "baseline": "alphabetic"},
     "encoding": {
       "x": {"datum": 388.5, "type": "quantitative", "axis": {"orient": "top", "values": [0,20,40,60,80,100,120,140,160,180,200,220,240,260,280,300,320,340,360,380,400], "labels": false, "title": null}},
       "y": {"datum": 2.47, "type": "quantitative", "axis": {"orient": "right", "values": [-8,-7,-6,-5,-4,-3,-2,-1,0,1,2,3,4], "labels": false, "title": null}}
     }}
  ]
},
{
  "spacing": 43,
  "bounds": "flush",
  "resolve": {"scale": {"color": "independent", "shape": "independent", "size": "independent"}, "legend": {"color": "independent", "shape": "independent"}},
  "hconcat": [
  {
    "width": 213, "height": 311,
    "resolve": {"axis": {"x": "independent", "y": "independent"}},
    "layer": [
      {"data": {"name": "b"}, "mark": {"type": "point", "filled": true, "opacity": 1, "clip": true, "strokeWidth": 0},
       "encoding": {
         "x": {"field": "t", "type": "quantitative", "scale": {"domain": [0, 300], "nice": false, "zero": false}, "axis": {"orient": "bottom", "values": [0,30,60,90,120,150,180,210,240,270,300], "labelExpr": "datum.value % 150 == 0 ? datum.label : ''", "title": "Temperature (K)", "titleX": 218}},
         "y": {"field": "m", "type": "quantitative", "scale": {"domain": [-14, 0], "nice": false, "zero": false}, "axis": {"orient": "left", "values": [-14,-13,-12,-11,-10,-9,-8,-7,-6,-5,-4,-3,-2,-1,0], "labelExpr": "datum.value % 6 == 0 ? replace(datum.label, '\u2212', '-') : ''", "title": null}},
         "shape": {"field": "s", "type": "nominal", "scale": {"domain": ["ZFC", "FC"], "range": ["square", "circle"]}, "legend": {"orient": "none", "legendX": 95, "legendY": 240, "title": null}},
         "color": {"field": "s", "type": "nominal", "scale": {"domain": ["ZFC", "FC"], "range": ["#000000", "#e63a2a"]}, "legend": {"orient": "none", "legendX": 95, "legendY": 240, "title": null}},
         "size": {"field": "s", "type": "nominal", "scale": {"domain": ["ZFC", "FC"], "range": [100, 130]}, "legend": null}
       }},
      {"data": {"values": [{}]}, "mark": {"type": "text", "text": "S2 @25 Oe", "fontSize": 27, "color": "black", "align": "right", "baseline": "alphabetic"}, "encoding": {"x": {"datum": 284, "type": "quantitative", "axis": null}, "y": {"datum": -9.73, "type": "quantitative", "axis": null}}},
      {"data": {"values": [{}]}, "mark": {"type": "text", "text": "(b)", "fontSize": 27, "color": "black", "align": "left", "baseline": "alphabetic"},
       "encoding": {
         "x": {"datum": 11.7, "type": "quantitative", "axis": {"orient": "top", "values": [0,30,60,90,120,150,180,210,240,270,300], "labels": false, "title": null}},
         "y": {"datum": -1.58, "type": "quantitative", "axis": {"orient": "right", "values": [-14,-13,-12,-11,-10,-9,-8,-7,-6,-5,-4,-3,-2,-1,0], "labels": false, "title": null}}
       }}
    ]
  },
  {
    "width": 212, "height": 311,
    "resolve": {"axis": {"x": "independent", "y": "independent"}},
    "layer": [
      {"data": {"values": [{}]}, "mark": {"type": "rect", "color": "#c0c0c0", "opacity": 1}, "encoding": {"x": {"datum": 0, "type": "quantitative", "axis": null}, "x2": {"datum": 300}, "y": {"datum": -10.4, "type": "quantitative", "axis": null}, "y2": {"datum": -13.0}}},
      {"data": {"name": "c"}, "mark": {"type": "point", "filled": true, "opacity": 1, "clip": true, "strokeWidth": 0},
       "encoding": {
         "x": {"field": "t", "type": "quantitative", "scale": {"domain": [0, 300], "nice": false, "zero": false}, "axis": {"orient": "bottom", "values": [0,30,60,90,120,150,180,210,240,270,300], "labelExpr": "datum.value % 150 == 0 ? datum.label : ''", "title": null}},
         "y": {"field": "m", "type": "quantitative", "scale": {"domain": [-30, 20], "nice": false, "zero": false}, "axis": {"orient": "left", "values": [-30,-25,-20,-15,-10,-5,0,5,10,15,20], "labelExpr": "datum.value % 20 == 0 ? replace(datum.label, '\u2212', '-') : ''", "title": null}},
         "shape": {"field": "s", "type": "nominal", "scale": {"domain": ["ZFC", "FC"], "range": ["square", "circle"]}, "legend": {"orient": "none", "legendX": 95, "legendY": 240, "title": null}},
         "color": {"field": "s", "type": "nominal", "scale": {"domain": ["ZFC", "FC"], "range": ["#000000", "#e63a2a"]}, "legend": {"orient": "none", "legendX": 95, "legendY": 240, "title": null}},
         "size": {"field": "s", "type": "nominal", "scale": {"domain": ["ZFC", "FC"], "range": [95, 150]}, "legend": null}
       }},
      {"data": {"values": [{}]}, "mark": {"type": "text", "text": "(c)\u00a0\u00a0S3 @25 Oe", "fontSize": 27, "color": "black", "align": "left", "baseline": "alphabetic"},
       "encoding": {
         "x": {"datum": 14, "type": "quantitative", "axis": {"orient": "top", "values": [0,30,60,90,120,150,180,210,240,270,300], "labels": false, "title": null}},
         "y": {"datum": 14.65, "type": "quantitative", "axis": {"orient": "right", "values": [-30,-25,-20,-15,-10,-5,0,5,10,15,20], "labels": false, "title": null}}
       }}
    ]
  }
  ]
}
]
}
